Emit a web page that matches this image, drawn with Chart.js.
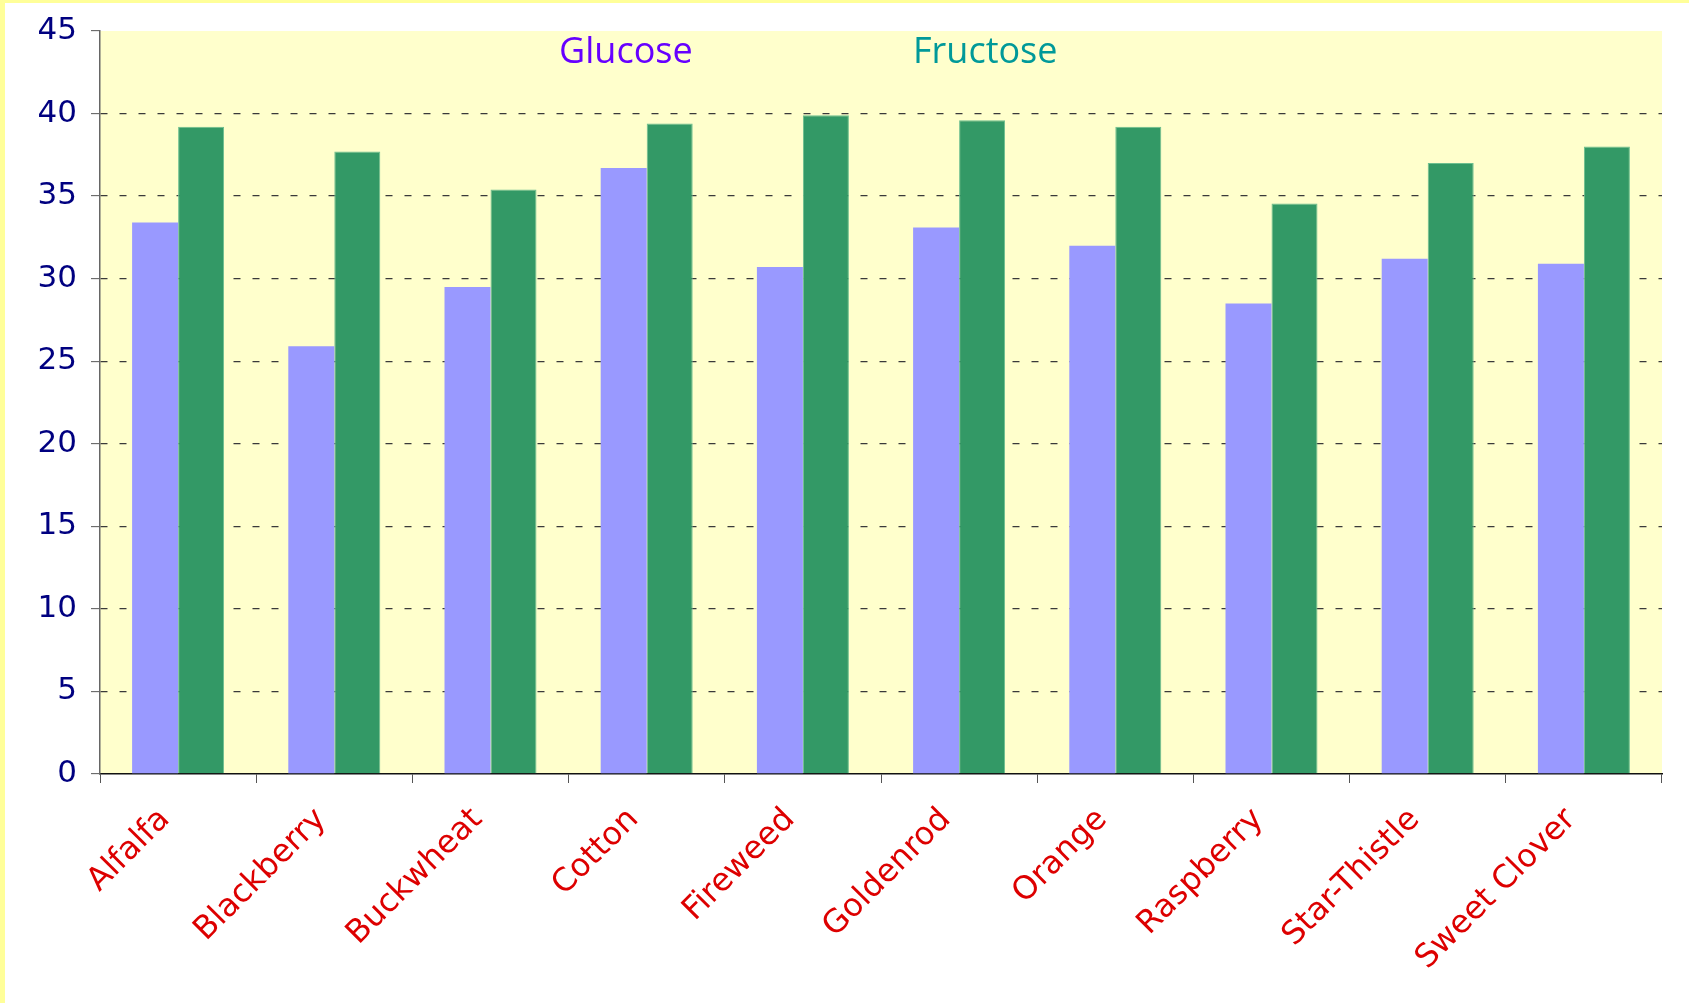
<!DOCTYPE html>
<html>
<head>
<meta charset="utf-8">
<script src="https://cdn.jsdelivr.net/npm/chart.js@4/dist/chart.umd.min.js"></script>
<style>
  html, body { margin: 0; padding: 0; background: #ffffff; }
  #frame {
    position: absolute; left: 0; top: 0;
    width: 1689px; height: 1003px;
    box-sizing: border-box;
    border-top: 3px solid #ffff99;
    border-left: 5px solid #ffff99;
    background: #ffffff;
  }
  #chart { display: block; }
</style>
</head>
<body>
<div id="frame"><canvas id="chart" width="1684" height="1000"></canvas></div>
<script>
// Sugar content of honey by floral source (percent)
const categories = ['Alfalfa', 'Blackberry', 'Buckwheat', 'Cotton', 'Fireweed',
                    'Goldenrod', 'Orange', 'Raspberry', 'Star-Thistle', 'Sweet Clover'];
const glucose  = [33.4, 25.9, 29.5, 36.7, 30.7, 33.1, 32.0, 28.5, 31.2, 30.9];
const fructose = [39.2, 37.7, 35.4, 39.4, 39.9, 39.6, 39.2, 34.55, 37.0, 38.0];
const yTicks   = [0, 5, 10, 15, 20, 25, 30, 35, 40, 45];

// Plot background fill
const plotBackground = {
  id: 'plotBackground',
  beforeDraw(chart) {
    const { ctx, chartArea: a } = chart;
    ctx.save();
    ctx.fillStyle = '#ffffcc';
    ctx.fillRect(a.left, a.top, a.right - a.left, a.bottom - a.top);
    ctx.restore();
  }
};

// Series names written inside the top of the plot, in each series' text colour
const innerLegend = {
  id: 'innerLegend',
  afterDraw(chart) {
    const { ctx, chartArea: a } = chart;
    const w = a.right - a.left;
    const spots = [0.2939, 0.5205];
    ctx.save();
    ctx.font = '36px "Comic Sans MS", "Open Sans", sans-serif';
    ctx.textAlign = 'left';
    ctx.textBaseline = 'alphabetic';
    chart.data.datasets.forEach((ds, i) => {
      ctx.fillStyle = ds.legendColor;
      ctx.fillText(ds.label, a.left + spots[i] * w, a.top + 32);
    });
    ctx.restore();
  }
};

new Chart(document.getElementById('chart'), {
  type: 'bar',
  data: {
    labels: categories,
    datasets: [
      { label: 'Glucose', data: glucose, backgroundColor: '#9999ff',
        borderWidth: 0, legendColor: '#6600ff' },
      { label: 'Fructose', data: fructose, backgroundColor: '#339966',
        borderColor: '#6cbf8f', borderWidth: { left: 1, right: 1, top: 1, bottom: 0 },
        legendColor: '#009999' }
    ]
  },
  plugins: [plotBackground, innerLegend],
  options: {
    responsive: false,
    animation: false,
    layout: { padding: { top: 28, right: 27, left: 0, bottom: 0 } },
    datasets: { bar: { categoryPercentage: 0.589, barPercentage: 1.0 } },
    plugins: { legend: { display: false }, tooltip: { enabled: false } },
    scales: {
      x: {
        grid: {
          offset: true,
          drawOnChartArea: false,
          drawTicks: true,
          tickLength: 9,
          tickColor: '#555555',
          tickWidth: 1
        },
        border: { color: '#111111', width: 1.5 },
        ticks: {
          color: '#dd0000',
          font: { family: 'Verdana, "DejaVu Sans", sans-serif', size: 32 },
          minRotation: 45,
          maxRotation: 45,
          padding: 18,
          labelOffset: -13,
          autoSkip: false
        },
        afterFit(scale) { scale.height = 229; }
      },
      y: {
        min: 0,
        max: 45,
        afterBuildTicks(scale) { scale.ticks = yTicks.map(v => ({ value: v })); },
        grid: {
          color: (c) => (c.tick && (c.tick.value === 0 || c.tick.value === 45)) ? 'rgba(0,0,0,0)' : '#3a3a3a',
          lineWidth: 1.3,
          drawTicks: true,
          tickLength: 9,
          tickColor: '#555555',
          tickWidth: 1,
          tickBorderDash: []
        },
        border: { color: '#666666', width: 1.5, dash: [7, 12] },
        ticks: {
          color: '#000080',
          font: { family: 'Verdana, "DejaVu Sans", sans-serif', size: 31 },
          padding: 14
        },
        afterFit(scale) {
          scale.width = 95;
          scale.paddingTop = 0;
        }
      }
    }
  }
});
</script>
</body>
</html>
